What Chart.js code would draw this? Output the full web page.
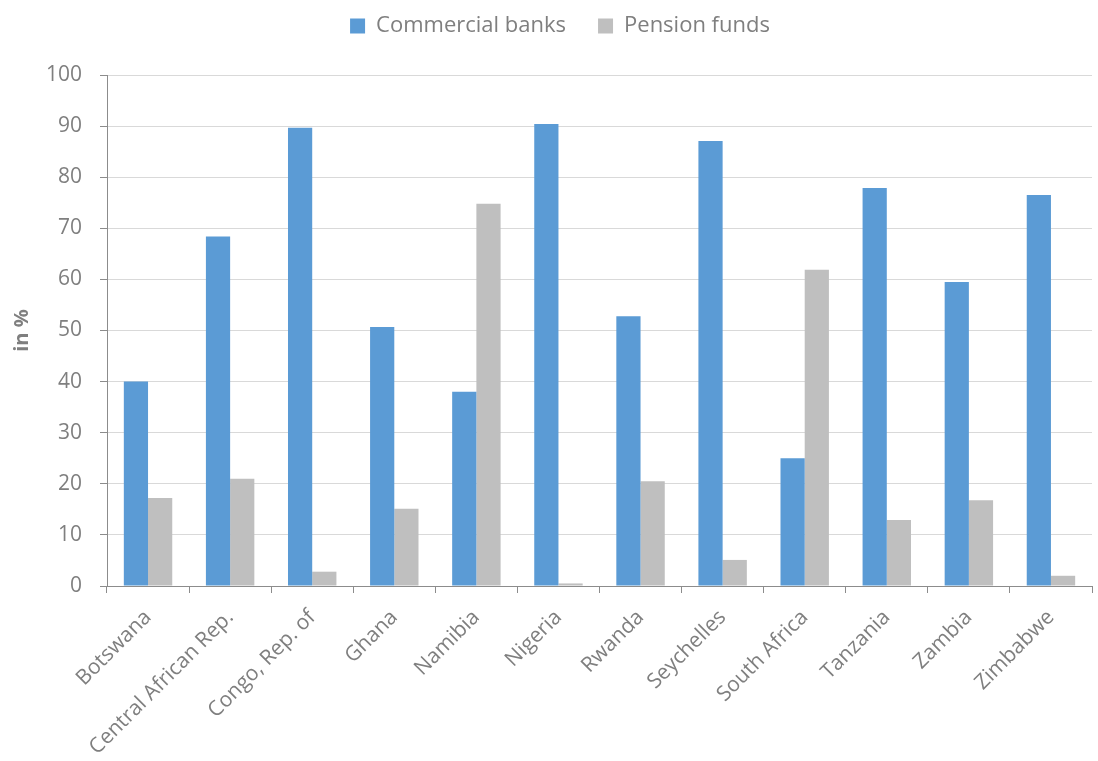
<!DOCTYPE html>
<html>
<head>
<meta charset="utf-8">
<script src="https://cdn.jsdelivr.net/npm/chart.js@4.4.0/dist/chart.umd.min.js"></script>
<style>
html,body{margin:0;padding:0;background:#fff;}
#wrap{width:1098px;height:761px;position:relative;}
</style>
</head>
<body>
<div id="wrap"><canvas id="c" width="1098" height="761"></canvas></div>
<script>
const categories = ["Botswana","Central African Rep.","Congo, Rep. of","Ghana","Namibia","Nigeria","Rwanda","Seychelles","South Africa","Tanzania","Zambia","Zimbabwe"];
const commercialBanks = [40.0, 68.4, 89.7, 50.7, 38.0, 90.4, 52.8, 87.1, 25.0, 77.9, 59.5, 76.5];
const pensionFunds = [17.2, 21.0, 2.8, 15.1, 74.8, 0.5, 20.5, 5.1, 61.9, 12.9, 16.8, 2.0];
const seriesNames = ["Commercial banks","Pension funds"];
const yTicks = {min:0, max:100, step:10};

const textColor = '#7f7f7f';
const axisColor = '#8c8c8c';
const gridColor = '#d9d9d9';
const fontFamily = "'Open Sans', 'Liberation Sans', sans-serif";

const legendShift = {
  id: 'legendShift',
  afterLayout(chart) {
    const lg = chart.legend;
    if (lg) { lg.top -= 28; lg.bottom -= 28; lg.left += 14; lg.right += 14; }
  }
};

new Chart(document.getElementById('c'), {
  type: 'bar',
  data: {
    labels: categories,
    datasets: [
      {label: seriesNames[0], data: commercialBanks, backgroundColor: '#5b9bd5', borderWidth: 0},
      {label: seriesNames[1], data: pensionFunds, backgroundColor: '#bfbfbf', borderWidth: 0}
    ]
  },
  plugins: [legendShift],
  options: {
    responsive: false,
    animation: false,
    devicePixelRatio: 1,
    layout: {padding: {left: 0, right: 6, top: 11, bottom: 0}},
    datasets: {bar: {categoryPercentage: 0.59, barPercentage: 1.0}},
    plugins: {
      legend: {
        position: 'top',
        labels: {
          color: textColor,
          font: {family: fontFamily, size: 22},
          boxWidth: 15, boxHeight: 15, padding: 32
        }
      },
      tooltip: {enabled: false}
    },
    scales: {
      x: {
        afterFit: (axis) => { axis.height = 175; },
        grid: {offset: true, drawOnChartArea: false, drawTicks: true, tickLength: 7, tickColor: axisColor, color: axisColor},
        border: {color: axisColor, width: 1},
        ticks: {color: textColor, font: {family: fontFamily, size: 21}, maxRotation: 45, minRotation: 45, padding: 12, autoSkip: false}
      },
      y: {
        min: yTicks.min, max: yTicks.max,
        afterFit: (axis) => { axis.width = 107; },
        grid: {color: gridColor, lineWidth: 1, drawTicks: true, tickLength: 7, tickColor: axisColor},
        border: {color: axisColor, width: 1},
        ticks: {stepSize: yTicks.step, color: textColor, font: {family: fontFamily, size: 21}, padding: 18},
        title: {display: true, text: 'in %', color: textColor, font: {family: fontFamily, size: 20, weight: 'bold'}, padding: {top: 10, bottom: 0}}
      }
    }
  }
});
</script>
</body>
</html>
